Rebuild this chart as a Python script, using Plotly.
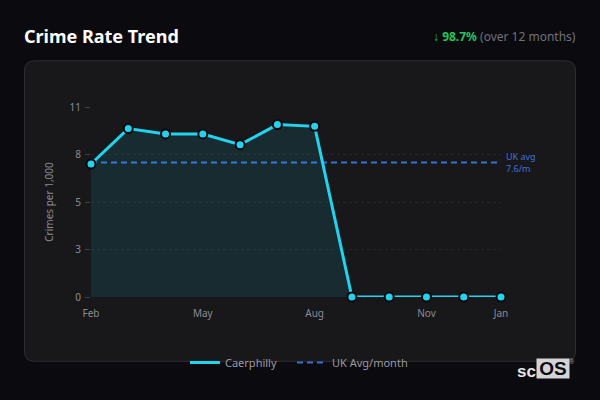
import plotly.graph_objects as go

months = ["Feb", "Mar", "Apr", "May", "Jun", "Jul", "Aug", "Sep", "Oct", "Nov", "Dec", "Jan"]
crime_rate = [7.70, 9.75, 9.44, 9.44, 8.82, 9.98, 9.88, 0, 0, 0, 0, 0]
uk_avg = [7.78] * 12
x_ticks = ["Feb", "May", "Aug", "Nov", "Jan"]
y_ticks = [0, 2.75, 5.5, 8.25, 11]
y_labels = ["0", "3", "5", "8", "11"]

W, H = 600, 400
L, R, T, B = 91, 501, 106.7, 296.7


def px(x):
    return (x - L) / (R - L)


def py(y):
    return (B - y) / (B - T)


def panel_path(x0, y0, x1, y1, r):
    a, b, c, d = px(x0), px(x1), py(y0), py(y1)
    rx, ry = r / (R - L), r / (B - T)
    return (f"M {a+rx} {c} L {b-rx} {c} Q {b} {c} {b} {c-ry} L {b} {d+ry} Q {b} {d} {b-rx} {d} "
            f"L {a+rx} {d} Q {a} {d} {a} {d+ry} L {a} {c-ry} Q {a} {c} {a+rx} {c} Z")


def legend_at(x):
    return dict(orientation="h", x=x / W, xanchor="left", xref="container",
                y=(H - 362.5) / H, yref="container", yanchor="middle",
                bgcolor="rgba(0,0,0,0)", itemwidth=30,
                font=dict(family="Noto Sans", size=11, color="#9a9aa2"))


fig = go.Figure()
fig.add_trace(go.Scatter(
    x=months, y=uk_avg, name="UK Avg/month", mode="lines", legend="legend2", opacity=0.85,
    showlegend=True, line=dict(color="#3b82f6", width=2, dash="6px,4px"),
))
fig.add_trace(go.Scatter(
    x=months, y=crime_rate, name="Caerphilly", mode="lines+markers", showlegend=False,
    line=dict(color="#22d3ee", width=3),
    marker=dict(color="#22d3ee", size=9, line=dict(color="#0a0a0f", width=2)),
    fill="tozeroy", fillcolor="rgba(34,211,238,0.10)", cliponaxis=False,
))
# legend entry shows only the line, not the marker
fig.add_trace(go.Scatter(
    x=[months[0]], y=[None], name="Caerphilly", mode="lines", showlegend=True,
    line=dict(color="#22d3ee", width=3),
))

fig.add_shape(type="path", xref="paper", yref="paper", layer="below",
              path=panel_path(24.5, 60.5, 575.5, 361, 10),
              fillcolor="#18181b", line=dict(color="#2e2e33", width=1))

fig.add_annotation(text="<b>Crime Rate Trend</b>", xref="paper", yref="paper", x=px(22), y=py(36),
                   xanchor="left", yanchor="middle", showarrow=False,
                   font=dict(family="Noto Sans", size=18, color="#ffffff"))
fig.add_annotation(text="<span style='color:#22c55e'>↓ <b>98.7%</b></span> (over 12 months)",
                   xref="paper", yref="paper", x=px(578), y=py(36),
                   xanchor="right", yanchor="middle", showarrow=False,
                   font=dict(family="Noto Sans", size=12, color="#71717a"))
fig.add_annotation(text="UK avg<br>7.6/m", xref="paper", yref="paper", x=px(504), y=py(162.5),
                   xanchor="left", yanchor="middle", align="left", showarrow=False,
                   font=dict(family="Noto Sans", size=9, color="#4070d8"))

# watermark
fig.add_annotation(text="<b>sc</b>", xref="paper", yref="paper", x=px(538), y=py(371),
                   xanchor="right", yanchor="middle", showarrow=False,
                   font=dict(family="Liberation Sans", size=17, color="#e5e5e5"))
fig.add_annotation(text="<b>OS</b>", xref="paper", yref="paper", x=px(553), y=py(368.5),
                   xanchor="center", yanchor="middle", showarrow=False, bgcolor="#d4d4d8",
                   width=32, height=19, borderpad=0,
                   font=dict(family="Liberation Sans", size=19, color="#0a0a0f"))
fig.add_annotation(text="®", xref="paper", yref="paper", x=px(572), y=py(361),
                   xanchor="center", yanchor="middle", showarrow=False,
                   font=dict(family="Liberation Sans", size=7, color="#a1a1aa"))

fig.update_xaxes(type="category", categoryorder="array", categoryarray=months, range=[0, 11],
                 tickmode="array", tickvals=x_ticks, ticktext=x_ticks, showgrid=False,
                 showline=False, zeroline=False, ticks="", ticklabelstandoff=9,
                 tickfont=dict(family="Noto Sans", size=10, color="#8a8a93"))
fig.update_yaxes(range=[0, 11], tickmode="array", tickvals=y_ticks, ticktext=y_labels,
                 showgrid=True, gridcolor="rgba(255,255,255,0.06)", griddash="dot", gridwidth=1,
                 zeroline=False, showline=False, ticks="outside", ticklen=5, tickcolor="#3f3f46",
                 ticklabelstandoff=2,
                 tickfont=dict(family="Noto Sans", size=10, color="#8a8a93"),
                 title=dict(text="Crimes per 1,000", standoff=14,
                            font=dict(family="Noto Sans", size=10, color="#8a8a93")))

fig.update_layout(
    width=W, height=H, autosize=False,
    margin=dict(l=L, r=W - R, t=T, b=H - B, pad=0),
    paper_bgcolor="#0a0a0f", plot_bgcolor="rgba(0,0,0,0)",
    legend=legend_at(185), legend2=legend_at(292),
    showlegend=True,
)

fig.write_html("out.html", config={"displayModeBar": False},
               post_script="document.body.style.margin='0';document.body.style.background='#0a0a0f';")
